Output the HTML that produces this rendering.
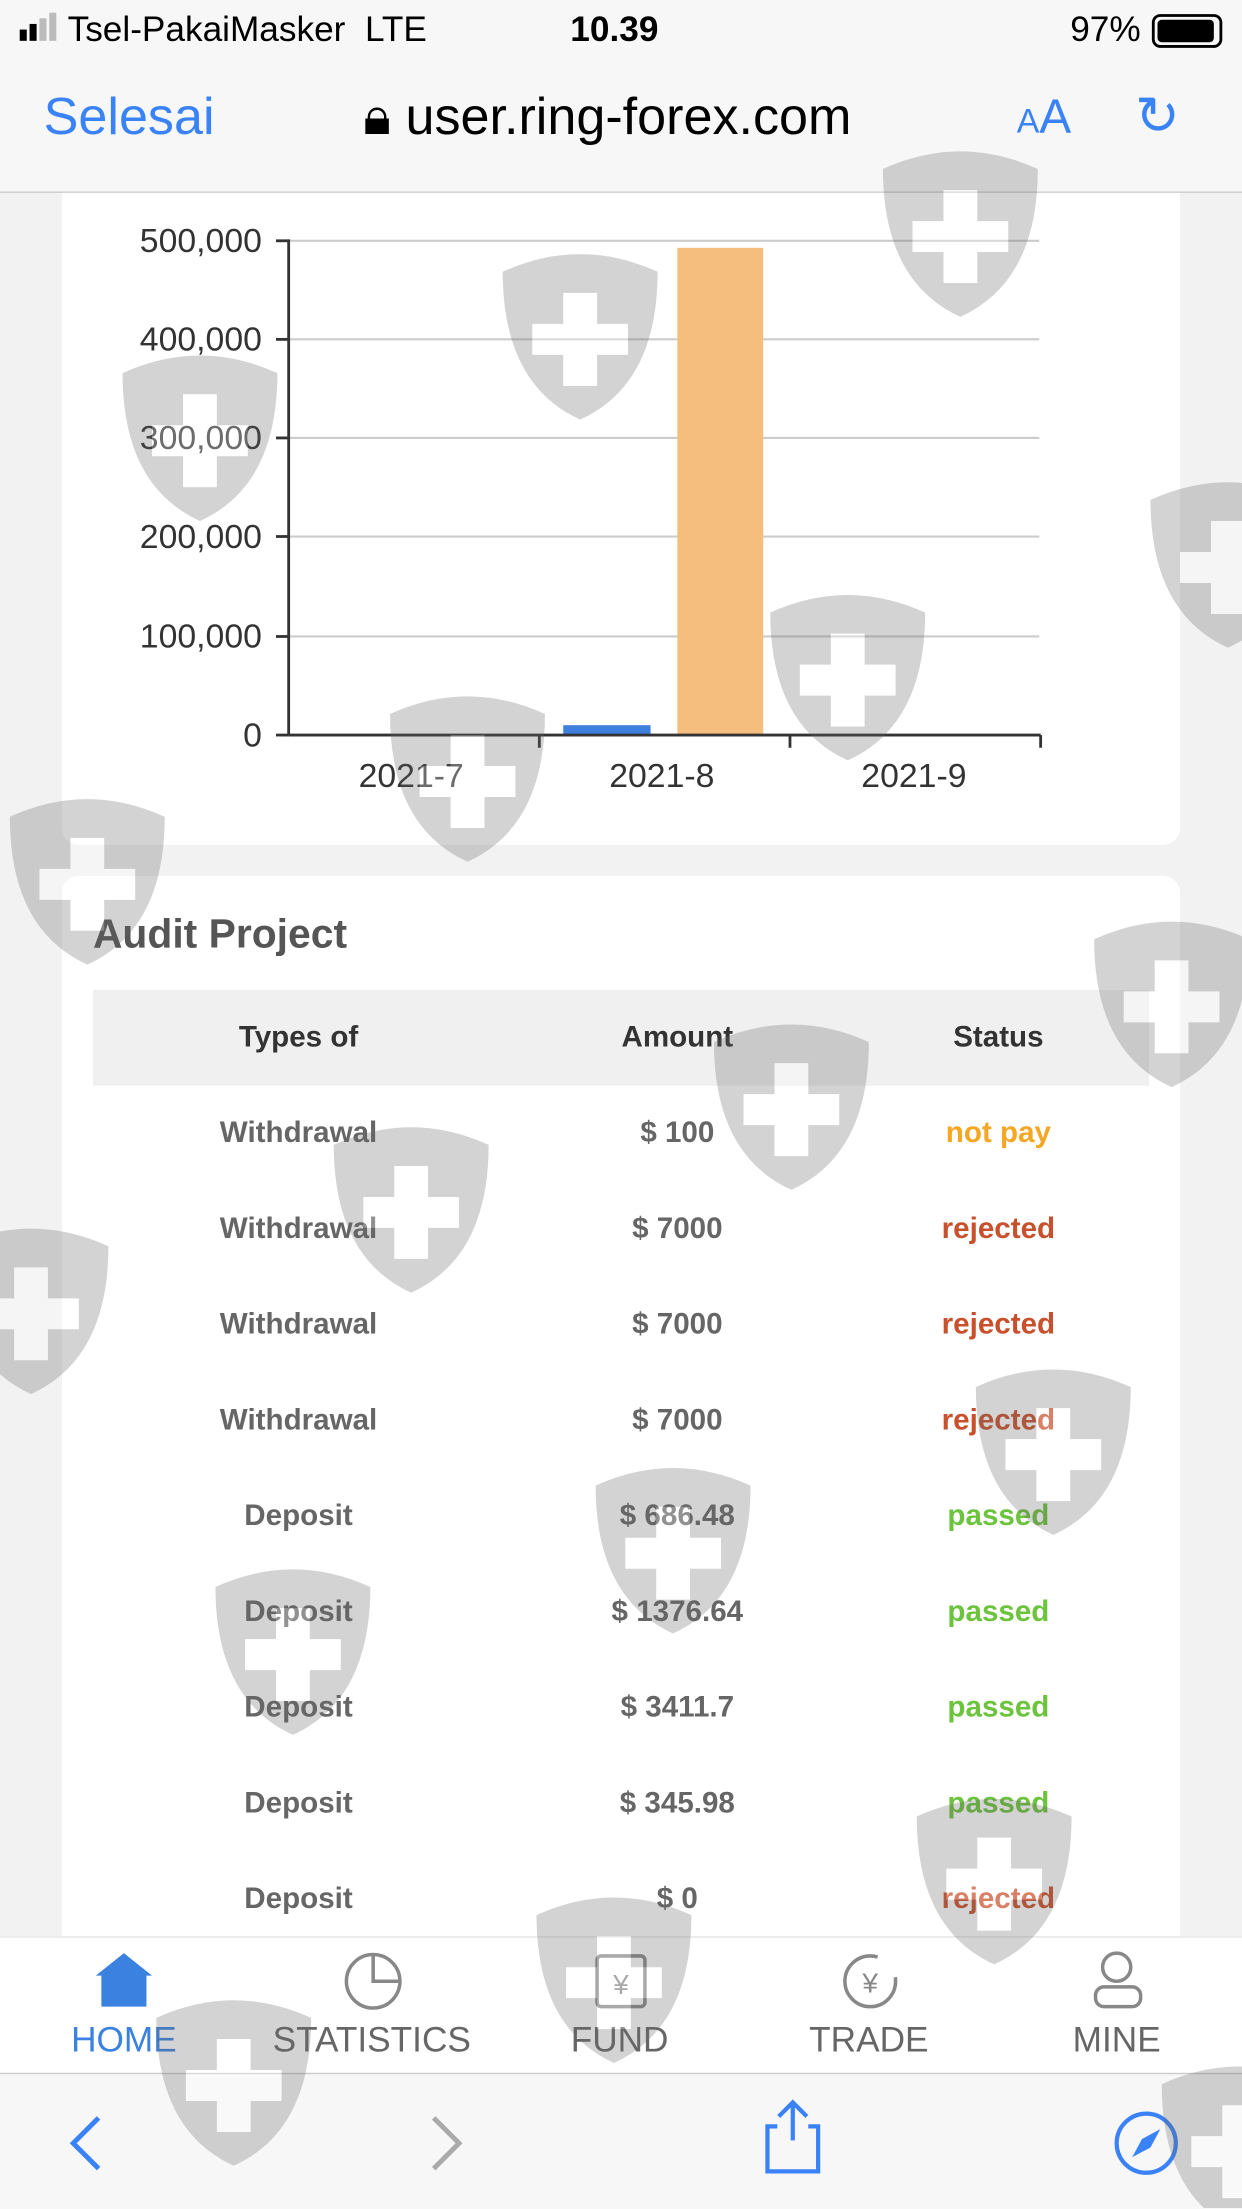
<!DOCTYPE html>
<html><head><meta charset="utf-8"><style>
html,body{margin:0;padding:0;width:1242px;height:2208px;overflow:hidden;background:#f2f2f2}
#w{position:absolute;left:0;top:0;width:882px;height:1568px;transform:scale(1.408163);transform-origin:0 0;font-family:"Liberation Sans",sans-serif;background:#f2f2f2}
.a{position:absolute}
.row{position:absolute;left:66px;width:750px;height:68px;font-size:21px;font-weight:bold}
.row span{position:absolute;top:0;line-height:68px;transform:translateX(-50%);white-space:nowrap}
.c1{left:146px;color:#666}.c2{left:415px;color:#666}.c3{left:643px}
.tab{position:absolute;top:1435px;font-size:25px;color:#666;transform:translateX(-50%)}
</style></head><body><div id="w">
<div class="a" style="left:0;top:0;width:882px;height:136px;background:#f7f7f7;border-bottom:1px solid #ccc"></div>
<div class="a" style="left:14px;top:7px;font-size:25px;color:#000">
<span style="display:inline-block;width:5px;height:8px;background:#000;margin-right:2px"></span><span style="display:inline-block;width:5px;height:12px;background:#000;margin-right:2px"></span><span style="display:inline-block;width:5px;height:16px;background:#bbb;margin-right:2px"></span><span style="display:inline-block;width:5px;height:20px;background:#bbb;margin-right:8px"></span>Tsel-PakaiMasker&nbsp;&nbsp;LTE</div>
<div class="a" style="left:405px;top:7px;font-size:25px;font-weight:bold">10.39</div>
<div class="a" style="left:760px;top:7px;font-size:25px">97%</div>
<div class="a" style="left:818px;top:10px;width:46px;height:20px;border:2px solid #000;border-radius:6px"><div style="margin:2px;width:40px;height:16px;background:#000;border-radius:3px"></div></div>
<div class="a" style="left:31px;top:62px;font-size:37px;color:#3a82f7">Selesai</div>
<div class="a" style="left:258px;top:62px;font-size:37px;color:#000">🔒︎ user.ring-forex.com</div>
<div class="a" style="left:722px;top:64px;font-size:34px;color:#3a82f7"><span style="font-size:24px">A</span>A</div>
<div class="a" style="left:806px;top:60px;font-size:38px;color:#3a82f7">↻</div>
<div class="a" style="left:44px;top:137px;width:794px;height:463px;background:#fff;border-radius:0 0 12px 12px"></div>
<svg class="a" style="left:0;top:0" width="882" height="600">
<g stroke="#ccc" stroke-width="1.5">
<line x1="205" y1="171" x2="738" y2="171"/><line x1="205" y1="241" x2="738" y2="241"/><line x1="205" y1="311" x2="738" y2="311"/><line x1="205" y1="381" x2="738" y2="381"/><line x1="205" y1="452" x2="738" y2="452"/></g>
<rect x="400" y="515" width="62" height="7" fill="#3d7fdd"/>
<rect x="481" y="176" width="61" height="346" fill="#f5bd7e"/>
<g stroke="#333" stroke-width="2"><line x1="205" y1="170" x2="205" y2="522"/><line x1="205" y1="522" x2="739" y2="522"/>
<line x1="196" y1="171" x2="205" y2="171"/><line x1="196" y1="241" x2="205" y2="241"/><line x1="196" y1="311" x2="205" y2="311"/><line x1="196" y1="381" x2="205" y2="381"/><line x1="196" y1="452" x2="205" y2="452"/><line x1="196" y1="522" x2="205" y2="522"/>
<line x1="383" y1="522" x2="383" y2="531"/><line x1="561" y1="522" x2="561" y2="531"/><line x1="739" y1="522" x2="739" y2="531"/></g>
<g font-family="Liberation Sans" font-size="24" fill="#333" text-anchor="end">
<text x="186" y="179">500,000</text><text x="186" y="249">400,000</text><text x="186" y="319">300,000</text><text x="186" y="389">200,000</text><text x="186" y="460">100,000</text><text x="186" y="530">0</text></g>
<g font-family="Liberation Sans" font-size="24" fill="#333" text-anchor="middle"><text x="292" y="559">2021-7</text><text x="470" y="559">2021-8</text><text x="649" y="559">2021-9</text></g>
</svg>
<div class="a" style="left:44px;top:622px;width:794px;height:760px;background:#fff;border-radius:12px 12px 0 0"></div>
<div class="a" style="left:66px;top:648px;font-size:29px;font-weight:bold;color:#555">Audit Project</div>
<div class="row" style="top:703px;background:#f0f0f0"><span class="c1" style="color:#333">Types of</span><span class="c2" style="color:#333">Amount</span><span class="c3" style="color:#333">Status</span></div>
<div class="row" style="top:771px"><span class="c1">Withdrawal</span><span class="c2">$ 100</span><span class="c3" style="color:#f5a623">not pay</span></div>
<div class="row" style="top:839px"><span class="c1">Withdrawal</span><span class="c2">$ 7000</span><span class="c3" style="color:#c9502c">rejected</span></div>
<div class="row" style="top:907px"><span class="c1">Withdrawal</span><span class="c2">$ 7000</span><span class="c3" style="color:#c9502c">rejected</span></div>
<div class="row" style="top:975px"><span class="c1">Withdrawal</span><span class="c2">$ 7000</span><span class="c3" style="color:#c9502c">rejected</span></div>
<div class="row" style="top:1043px"><span class="c1">Deposit</span><span class="c2">$ 686.48</span><span class="c3" style="color:#6cc33c">passed</span></div>
<div class="row" style="top:1111px"><span class="c1">Deposit</span><span class="c2">$ 1376.64</span><span class="c3" style="color:#6cc33c">passed</span></div>
<div class="row" style="top:1179px"><span class="c1">Deposit</span><span class="c2">$ 3411.7</span><span class="c3" style="color:#6cc33c">passed</span></div>
<div class="row" style="top:1247px"><span class="c1">Deposit</span><span class="c2">$ 345.98</span><span class="c3" style="color:#6cc33c">passed</span></div>
<div class="row" style="top:1315px"><span class="c1">Deposit</span><span class="c2">$ 0</span><span class="c3" style="color:#c9502c">rejected</span></div>
<div class="a" style="left:0;top:1375px;width:882px;height:97px;background:#fff;border-top:1px solid #e5e5e5"></div>
<svg class="a" style="left:0;top:1385px" width="882" height="50">
<path d="M68 18 L88 2 L108 18 L104 18 L104 40 L72 40 L72 18Z" fill="#3b82e0"/>
<circle cx="265" cy="22" r="19" fill="none" stroke="#888" stroke-width="2.5"/><path d="M265 3 V22 H284" fill="none" stroke="#888" stroke-width="2.5"/>
<rect x="424" y="4" width="34" height="36" fill="none" stroke="#888" stroke-width="2.5" rx="3"/><text x="441" y="31" font-size="20" fill="#888" text-anchor="middle" font-family="Liberation Sans">¥</text>
<circle cx="618" cy="22" r="18" fill="none" stroke="#888" stroke-width="2.5" stroke-dasharray="90 20"/><text x="618" y="30" font-size="20" fill="#888" text-anchor="middle" font-family="Liberation Sans">¥</text>
<circle cx="793" cy="12" r="10" fill="none" stroke="#888" stroke-width="2.5"/><rect x="778" y="26" width="32" height="14" rx="6" fill="none" stroke="#888" stroke-width="2.5"/>
</svg>
<div class="tab" style="left:88px;color:#3b82e0">HOME</div>
<div class="tab" style="left:264px">STATISTICS</div>
<div class="tab" style="left:440px">FUND</div>
<div class="tab" style="left:617px">TRADE</div>
<div class="tab" style="left:793px">MINE</div>
<div class="a" style="left:0;top:1472px;width:882px;height:96px;background:#f7f7f7;border-top:1px solid #ccc"></div>
<svg class="a" style="left:0;top:1472px" width="882" height="96">
<path d="M70 32 L52 50 L70 68" fill="none" stroke="#3a82f7" stroke-width="3.5"/>
<path d="M308 32 L326 50 L308 68" fill="none" stroke="#aaa" stroke-width="3.5"/>
<path d="M552 38 H545 V70 H581 V38 H574 M563 48 V22 M553 31 L563 21 L573 31" fill="none" stroke="#3a82f7" stroke-width="3"/>
<circle cx="814" cy="50" r="21" fill="none" stroke="#3a82f7" stroke-width="3"/><path d="M824 40 L817 53 L804 60 L811 47Z" fill="#3a82f7"/>
</svg>
<svg class="a" style="left:0;top:0;opacity:0.28" width="882" height="1568">
<defs><g id="s"><path d="M-55 -45 Q0 -70 55 -45 Q55 35 0 60 Q-55 35 -55 -45Z" fill="#666"/><path d="M-12 -30 H12 V-8 H34 V14 H12 V36 H-12 V14 H-34 V-8 H-12Z" fill="#fff"/></g></defs>
<use href="#s" x="682" y="165"/><use href="#s" x="412" y="238"/><use href="#s" x="142" y="310"/><use href="#s" x="872" y="400"/><use href="#s" x="602" y="480"/><use href="#s" x="332" y="552"/><use href="#s" x="62" y="625"/><use href="#s" x="832" y="712"/><use href="#s" x="562" y="785"/><use href="#s" x="292" y="858"/><use href="#s" x="22" y="930"/><use href="#s" x="748" y="1030"/><use href="#s" x="478" y="1100"/><use href="#s" x="208" y="1172"/><use href="#s" x="706" y="1335"/><use href="#s" x="436" y="1405"/><use href="#s" x="166" y="1478"/><use href="#s" x="880" y="1525"/>
</svg>
</div></body></html>
